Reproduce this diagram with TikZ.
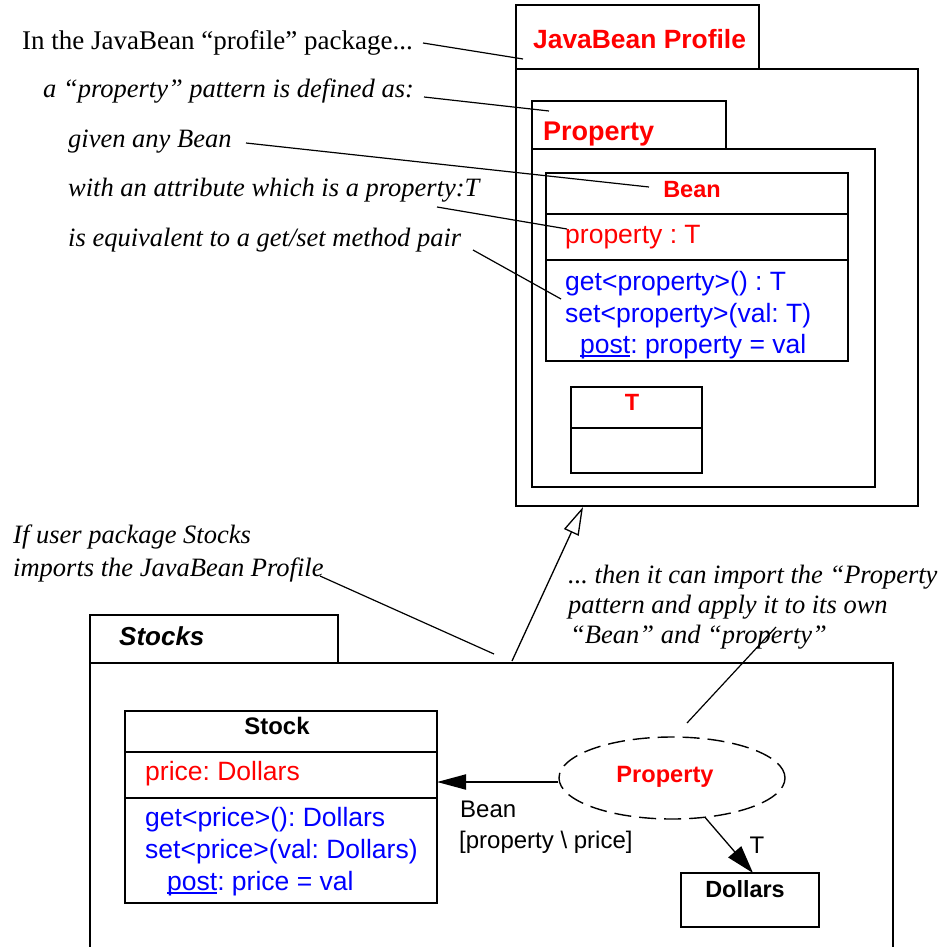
\documentclass[tikz,border=0pt]{standalone}
\usepackage{fontspec}
\setmainfont{Liberation Serif}
\setsansfont{Liberation Sans}
\usetikzlibrary{shapes.geometric,arrows.meta}
\definecolor{umlred}{RGB}{255,0,0}
\definecolor{umlblue}{RGB}{0,0,255}
\newlength\ulwd
\newcommand\ulpost[1]{\settowidth\ulwd{#1}\rlap{\rule[-3.5pt]{\ulwd}{1.6pt}}#1}
\frenchspacing
\begin{document}
\begin{tikzpicture}[x=1pt,y=-1pt,
  box/.style={draw, line width=2.6pt, inner sep=0pt, outer sep=0pt, anchor=north west},
  txt/.style={inner sep=0pt, anchor=base west},
  ctxt/.style={inner sep=0pt, anchor=base},
  sreg/.style={font=\fontsize{26.5}{32}\selectfont\sffamily},
  sbold/.style={font=\fontsize{#1}{32}\selectfont\sffamily\bfseries},
  sbold/.default=23.5,
  serifup/.style={txt, font=\fontsize{27}{32}\selectfont\rmfamily},
  serifit/.style={txt, font=\fontsize{26.5}{32}\selectfont\rmfamily\itshape},
  note/.style={line width=1.2pt},
  solidarr/.style={line width=2pt, -{Triangle[length=29pt,width=15pt]}},
  genarr/.style={line width=1.3pt, -{Triangle[open,length=28pt,width=16pt,line width=1.3pt]}}
]
\useasboundingbox (0,0) rectangle (937,947);
\fill[white] (0,0) rectangle (937,947);

% ---------- JavaBean Profile package ----------
\node[box, minimum width=243pt, minimum height=64pt] (jbtab) at (516,5) {};
\node[box, minimum width=402pt, minimum height=437pt] (jbbody) at (516,69) {};
\node[txt, sbold=26.4, text=umlred] (jbtitle) at (533,49) {JavaBean Profile};

\node[box, minimum width=194pt, minimum height=48pt] (proptab) at (532,101) {};
\node[box, minimum width=343pt, minimum height=338pt] (propbody) at (532,149) {};
\node[txt, sbold=27, text=umlred] (proptitle) at (543,140) {Property};

\node[box, minimum width=302pt, minimum height=41pt] (beanname) at (546,173) {};
\node[box, minimum width=302pt, minimum height=46pt] (beanattr) at (546,214) {};
\node[box, minimum width=302pt, minimum height=101pt] (beanops) at (546,260) {};
\node[ctxt, sbold, text=umlred] (beantitle) at (692,197) {Bean};
\node[txt, sreg, text=umlred] (beanattrtxt) at (565,243) {property : T};
\node[txt, sreg, text=umlblue] (beanget) at (565,290) {get<property>() : T};
\node[txt, sreg, text=umlblue] (beanset) at (565,322) {set<property>(val: T)};
\node[txt, sreg, text=umlblue] (beanpost) at (580,353) {\ulpost{post}: property = val};

\node[box, minimum width=131pt, minimum height=41pt] (tname) at (571,387) {};
\node[box, minimum width=131pt, minimum height=45pt] (tbody) at (571,428) {};
\node[ctxt, sbold, text=umlred] (ttitle) at (632,410) {T};

% ---------- Stocks package ----------
\node[box, minimum width=248pt, minimum height=48pt] (stockstab) at (90,615) {};
\node[box, minimum width=803pt, minimum height=340pt] (stocksbody) at (90,663) {};
\node[txt, font=\fontsize{26}{32}\selectfont\sffamily\bfseries\itshape] (stockstitle) at (119,645) {Stocks};

\node[box, minimum width=312pt, minimum height=41pt] (stockname) at (125,711) {};
\node[box, minimum width=312pt, minimum height=46pt] (stockattr) at (125,752) {};
\node[box, minimum width=312pt, minimum height=105pt] (stockops) at (125,798) {};
\node[ctxt, sbold=23.9] (stocktitle) at (277,734) {Stock};
\node[txt, sreg, text=umlred] (stockattrtxt) at (145,780) {price: Dollars};
\node[txt, sreg, text=umlblue] (stockget) at (145,826) {get<price>(): Dollars};
\node[txt, sreg, text=umlblue] (stockset) at (145,858) {set<price>(val: Dollars)};
\node[txt, sreg, text=umlblue] (stockpost) at (167,890) {\ulpost{post}: price = val};

\node[ellipse, draw, line width=1.4pt, dash pattern=on 17pt off 8pt, minimum width=226pt, minimum height=82pt, inner sep=0pt] (ell) at (672,778) {};
\node[ctxt, sbold=23.6, text=umlred] (elltxt) at (665,782) {Property};

\node[box, minimum width=138pt, minimum height=54pt] (dollars) at (681,873) {};
\node[ctxt, sbold=23.4] (dollarstxt) at (745,897) {Dollars};

\draw[solidarr] ([yshift=-4pt]ell.west) -- ([yshift=-4pt]ell.west -| stockattr.east);
\node[txt, font=\fontsize{24}{28}\selectfont\sffamily] (beanlbl) at (460,817) {Bean};
\node[txt, font=\fontsize{24}{28}\selectfont\sffamily] (bindlbl) at (459,848) {[property \textbackslash{} price]};

\draw[line width=1.3pt, -{Triangle[length=28pt,width=17pt]}] (ell.-50) -- ([xshift=3pt]dollars.north);
\node[ctxt, font=\fontsize{24}{28}\selectfont\sffamily] (tlbl) at (757,853) {T};

% generalization (import)
\coordinate (gs) at (512,661);
\coordinate (ge) at (583,507);
\draw[genarr] (gs) -- (ge);

% ---------- Notes ----------
\node[serifup] (n1) at (22,50) {In the JavaBean “profile” package...};
\node[serifit] (n2) at (43,98) {a “property” pattern is defined as:};
\node[serifit] (n3) at (68,147) {given any Bean};
\node[serifit] (n4) at (68,196) {with an attribute which is a property:T};
\node[serifit] (n5) at (68,246) {is equivalent to a get/set method pair};
\node[serifit] (n6) at (13,543) {If user package Stocks};
\node[serifit] (n7) at (13,576) {imports the JavaBean Profile};
\node[serifit] (n8) at (568,583) {... then it can import the “Property”};
\node[serifit] (n9) at (568,613) {pattern and apply it to its own};
\node[serifit] (n10) at (570,643) {“Bean” and “property”};

\coordinate (l1a) at (423,43);  \coordinate (l1b) at (523,59);
\coordinate (l2a) at (424,97);  \coordinate (l2b) at (549,111);
\coordinate (l3a) at (246,143); \coordinate (l3b) at (649,187);
\coordinate (l4a) at (437,207); \coordinate (l4b) at (567,229);
\coordinate (l5a) at (473,250); \coordinate (l5b) at (561,299);
\coordinate (l6a) at (320,576); \coordinate (l6b) at (494,654);
\coordinate (l7a) at (776,627); \coordinate (l7b) at (687,723);
\draw[note] (l1a) -- (l1b);
\draw[note] (l2a) -- (l2b);
\draw[note] (l3a) -- (l3b);
\draw[note] (l4a) -- (l4b);
\draw[note] (l5a) -- (l5b);
\draw[note] (l6a) -- (l6b);
\draw[note] (l7a) -- (l7b);
\end{tikzpicture}
\end{document}
